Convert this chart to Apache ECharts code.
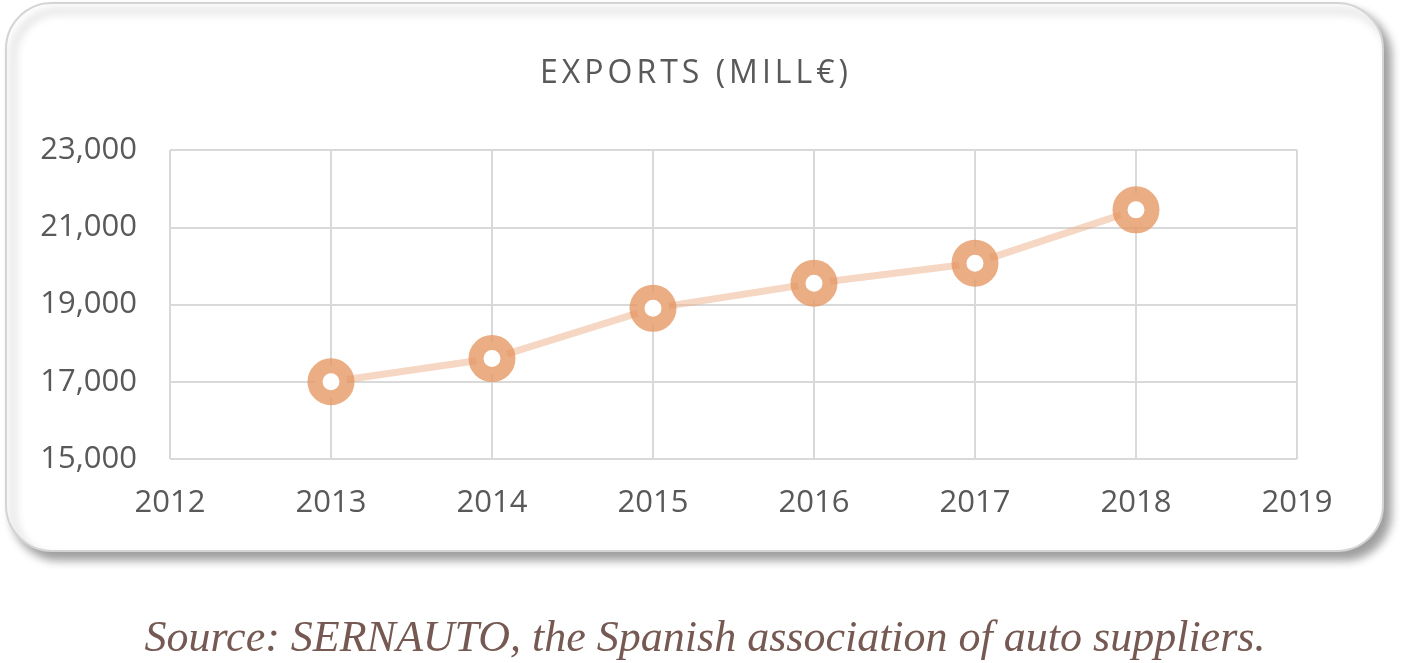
<!DOCTYPE html>
<html>
<head>
<meta charset="utf-8">
<script src="https://cdn.jsdelivr.net/npm/echarts@6/dist/echarts.min.js"></script>
<style>
html,body{margin:0;padding:0;background:#fff;}
#chart{width:1411px;height:663px;}
</style>
</head>
<body>
<div id="chart"></div>
<script>
var chartTitle = 'EXPORTS (MILL€)';
var sourceNote = 'Source: SERNAUTO, the Spanish association of auto suppliers.';
var years = [2013, 2014, 2015, 2016, 2017, 2018];
var exportsValues = [17000, 17600, 18900, 19550, 20070, 21450];
var xTicks = [2012, 2013, 2014, 2015, 2016, 2017, 2018, 2019];
var yTicks = [15000, 17000, 19000, 21000, 23000];

var seriesData = years.map(function (y, i) { return [y, exportsValues[i]]; });

// widen the title's letter spacing (as in the reference) without splitting the text
(function () {
  var proto = CanvasRenderingContext2D.prototype;
  var origFill = proto.fillText;
  proto.fillText = function (t, x, y, m) {
    var args = m === undefined ? [t, x, y] : [t, x, y, m];
    if (t === chartTitle && 'letterSpacing' in this) {
      this.save();
      this.letterSpacing = '4px';
      this.font = this.font;
      var r = origFill.apply(this, args);
      this.restore();
      this.letterSpacing = '0px';
      this.font = this.font;
      return r;
    }
    if ('letterSpacing' in this && this.letterSpacing !== '0px') {
      this.letterSpacing = '0px';
      this.font = this.font;
    }
    return origFill.apply(this, args);
  };
})();

var chart = echarts.init(document.getElementById('chart'), null, {renderer: 'canvas'});
chart.setOption({
  backgroundColor: '#ffffff',
  animation: false,
  graphic: [
    {
      type: 'rect', z: -10, silent: true,
      shape: {x: 6, y: 3, width: 1377, height: 548, r: 46},
      style: {
        fill: '#ffffff', stroke: '#d4d4d4', lineWidth: 2,
        shadowBlur: 10, shadowOffsetX: 7, shadowOffsetY: 8,
        shadowColor: 'rgba(0,0,0,0.38)'
      }
    },
    {
      type: 'text', z: 10,
      style: {
        x: 696, y: 74, text: chartTitle, textAlign: 'center', textVerticalAlign: 'middle',
        font: 'normal 32px "Open Sans"', fill: '#595959'
      }
    },
    {
      type: 'text', z: 11,
      style: {
        x: 705, y: 639, text: sourceNote, textAlign: 'center', textVerticalAlign: 'middle',
        font: 'italic 44px "Liberation Serif"', fill: '#755952'
      }
    }
  ],
  grid: {left: 170, right: 114, top: 150, bottom: 204, containLabel: false},
  xAxis: {
    type: 'value',
    min: xTicks[0], max: xTicks[xTicks.length - 1], interval: 1,
    axisLine: {show: false},
    axisTick: {show: false},
    splitLine: {show: true, lineStyle: {color: '#d9d9d9', width: 2}},
    axisLabel: {
      color: '#595959', fontSize: 31, fontFamily: 'Open Sans', margin: 29,
      formatter: function (v) { return String(v); }
    }
  },
  yAxis: {
    type: 'value',
    min: yTicks[0], max: yTicks[yTicks.length - 1], interval: yTicks[1] - yTicks[0],
    axisLine: {show: false},
    axisTick: {show: false},
    splitLine: {show: true, lineStyle: {color: '#d9d9d9', width: 2}},
    axisLabel: {
      color: '#595959', fontSize: 31, fontFamily: 'Open Sans', margin: 33
    }
  },
  series: [{
    type: 'line',
    data: seriesData,
    symbol: 'circle',
    symbolSize: 32,
    lineStyle: {color: 'rgba(238,176,136,0.5)', width: 7},
    itemStyle: {color: '#ffffff', borderColor: 'rgba(228,150,98,0.78)', borderWidth: 15},
    z: 5
  }]
});
</script>
</body>
</html>
